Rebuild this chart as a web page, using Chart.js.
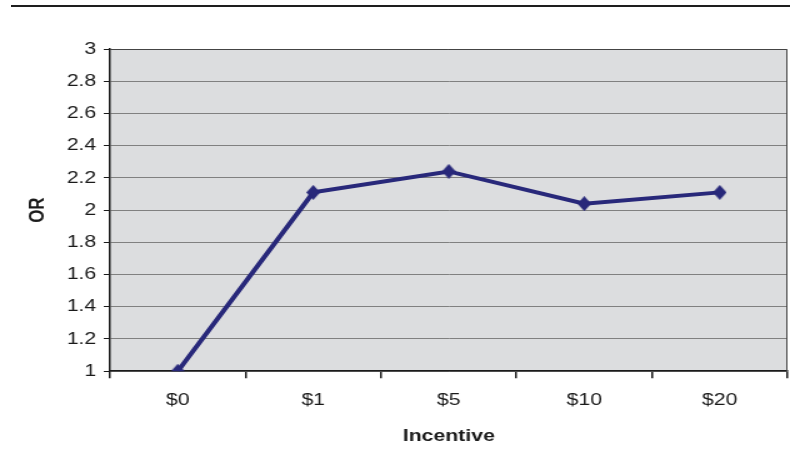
<!DOCTYPE html>
<html>
<head>
<meta charset="utf-8">
<script src="https://cdn.jsdelivr.net/npm/chart.js"></script>
<style>
  html, body { margin: 0; padding: 0; background: #fff; }
  #wrap { position: relative; width: 790px; height: 474px; overflow: hidden; }
  #topRule { position: absolute; left: 11px; top: 5px; width: 779px; height: 2px; background: #1e1e1e; }
  /* the original picture is stretched sideways, so the canvas is too */
  canvas { position: absolute; left: 0; top: 0; transform: scaleX(1.25); transform-origin: 0 0; }
</style>
</head>
<body>
<div id="wrap">
  <canvas id="chart" width="641" height="474"></canvas>
  <div id="topRule"></div>
</div>
<script>
// values
const incentives = ['$0', '$1', '$5', '$10', '$20'];
const oddsRatios = [1.0, 2.11, 2.24, 2.04, 2.11];

const navy = '#28287a';
const ink = '#1a1a1a';
const font = { family: '"Liberation Sans", Arial, sans-serif', size: 17 };

// diamond marker, narrower than tall to undo the sideways stretch
const diamond = document.createElement('canvas');
diamond.width = 11;
diamond.height = 15;
(() => {
    const c = diamond.getContext('2d');
    c.fillStyle = navy;
    c.beginPath();
    c.moveTo(5.5, 0);
    c.lineTo(11, 7.5);
    c.lineTo(5.5, 15);
    c.lineTo(0, 7.5);
    c.closePath();
    c.fill();
})();

// gray plot area with a thin frame
const plotArea = {
    id: 'plotArea',
    beforeDraw(chart) {
        const { ctx, chartArea: a } = chart;
        ctx.save();
        ctx.fillStyle = '#dcdddf';
        ctx.fillRect(a.left, a.top, a.right - a.left, a.bottom - a.top);
        ctx.restore();
    },
    afterDatasetsDraw(chart) {
        const { ctx, chartArea: a } = chart;
        ctx.save();
        ctx.strokeStyle = '#444';
        ctx.lineWidth = 1;
        ctx.beginPath();
        ctx.moveTo(a.left, a.top + 0.5);
        ctx.lineTo(a.right - 0.5, a.top + 0.5);
        ctx.lineTo(a.right - 0.5, a.bottom);
        ctx.stroke();
        ctx.restore();
    }
};

new Chart(document.getElementById('chart'), {
    type: 'line',
    data: {
        labels: incentives,
        datasets: [{
            data: oddsRatios,
            borderColor: navy,
            backgroundColor: navy,
            borderWidth: 4,
            pointStyle: diamond,
            pointRadius: 7,
            pointHoverRadius: 7,
            tension: 0
        }]
    },
    options: {
        responsive: false,
        animation: false,
        layout: { padding: { left: 16, right: 1, top: 49, bottom: 23 } },
        plugins: { legend: { display: false }, tooltip: { enabled: false } },
        scales: {
            x: {
                offset: true,
                grid: { offset: true, drawOnChartArea: false, drawTicks: true, tickLength: 7, color: ink, lineWidth: 1.5 },
                border: { color: ink, width: 1.5 },
                ticks: { color: ink, font, padding: 12 },
                title: { display: true, text: 'Incentive', color: ink, font: { ...font, weight: 'bold' }, padding: { top: 4 } }
            },
            y: {
                min: 1,
                max: 3,
                ticks: { stepSize: 0.2, color: ink, font, padding: 6, callback: v => String(Math.round(v * 10) / 10) },
                grid: { color: '#808080', lineWidth: 1, tickLength: 5, tickColor: ink },
                border: { color: ink, width: 1.5 },
                title: { display: true, text: 'OR', color: ink, font: { ...font, weight: 'bold' }, padding: { top: 4, bottom: 7 } }
            }
        }
    },
    plugins: [plotArea]
});
</script>
</body>
</html>
